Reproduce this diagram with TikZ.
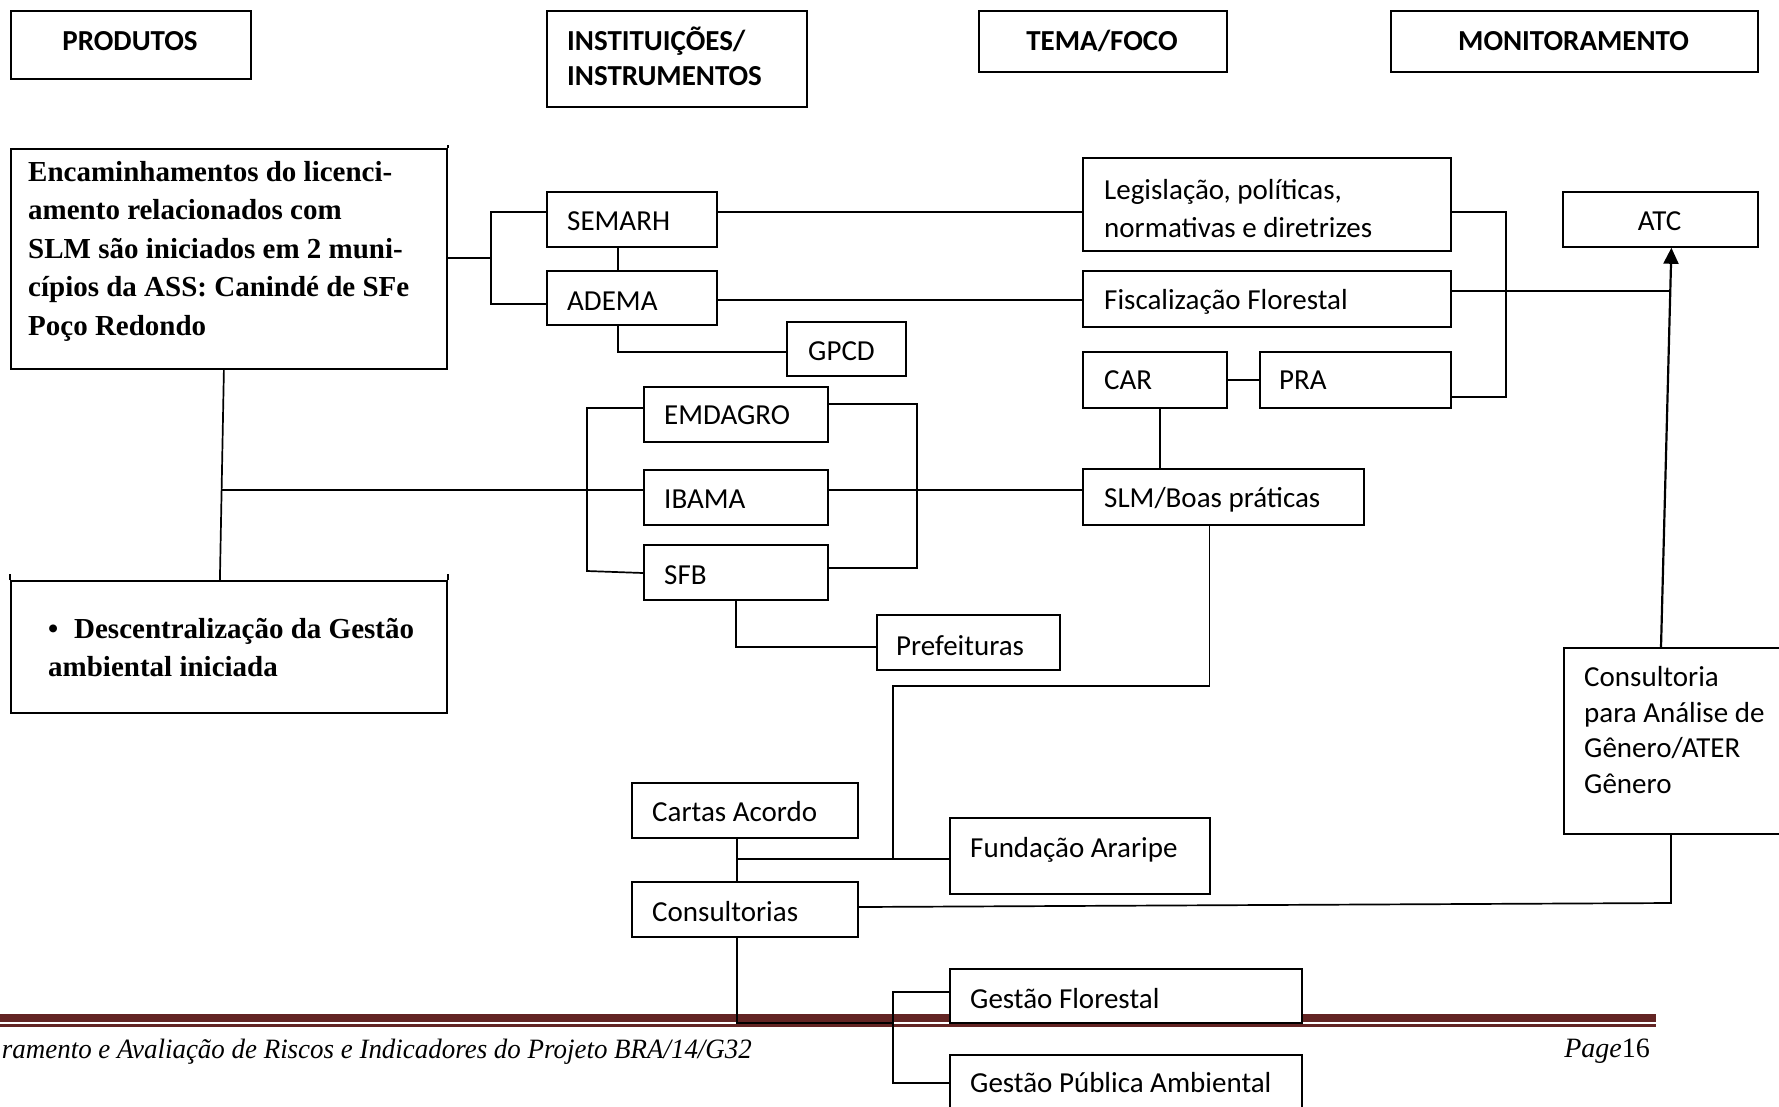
\documentclass[tikz,border=0pt]{standalone}
\usepackage{fontspec}
\setmainfont{Carlito}
\newfontfamily\tnr{Liberation Serif}
\usetikzlibrary{arrows.meta,calc}
\definecolor{footred}{RGB}{99,36,35}
\pgfdeclarelayer{bgg}
\pgfdeclarelayer{bg}
\pgfsetlayers{bgg,bg,main}
\newcommand{\mlines}[2]{\parbox[t]{600pt}{\fontsize{29}{#1}\selectfont\raggedright #2}}
\begin{document}
\begin{tikzpicture}[x=1pt,y=-1pt,
  bx/.style={draw, line width=1.8pt, fill=white, rectangle, anchor=north west, inner sep=0pt},
  lab/.style={anchor=base west, inner sep=0pt, font=\fontsize{29}{35.5}\selectfont},
  hd/.style={anchor=base, inner sep=0pt, font=\fontsize{29}{35.5}\selectfont\bfseries},
  cn/.style={draw, line width=1.7pt},
  arr/.style={draw, line width=2.2pt, -{Triangle[length=16pt,width=15pt]}},
  tick/.style={draw, line width=1.8pt}]
\useasboundingbox (0,0) rectangle (1779,1106);
\clip (0,0) rectangle (1779,1106);

% ---------- boxes ----------
\node[bx, minimum width=240pt, minimum height=68pt] (prod) at (10,10) {};
\node[bx, minimum width=260pt, minimum height=96pt] (inst) at (546,10) {};
\node[bx, minimum width=248pt, minimum height=61pt] (tema) at (978,10) {};
\node[bx, minimum width=367pt, minimum height=61pt] (moni) at (1390,10) {};
\node[bx, minimum width=436pt, minimum height=220pt] (enc) at (10,148) {};
\node[bx, minimum width=170pt, minimum height=55pt] (semarh) at (546,191) {};
\node[bx, minimum width=170pt, minimum height=54pt] (adema) at (546,270) {};
\node[bx, minimum width=119pt, minimum height=54pt] (gpcd) at (786,321) {};
\node[bx, minimum width=368pt, minimum height=93pt] (legis) at (1082,157) {};
\node[bx, minimum width=368pt, minimum height=56pt] (fisc) at (1082,270) {};
\node[bx, minimum width=144pt, minimum height=56pt] (car) at (1082,351) {};
\node[bx, minimum width=191pt, minimum height=56pt] (pra) at (1259,351) {};
\node[bx, minimum width=195pt, minimum height=55pt] (atc) at (1562,191) {};
\node[bx, minimum width=184pt, minimum height=55pt] (emd) at (643,386) {};
\node[bx, minimum width=184pt, minimum height=55pt] (ibama) at (643,469) {};
\node[bx, minimum width=184pt, minimum height=55pt] (sfb) at (643,544) {};
\node[bx, minimum width=281pt, minimum height=56pt] (slm) at (1082,468) {};
\node[bx, minimum width=183pt, minimum height=55pt] (pref) at (876,614) {};
\node[bx, minimum width=436pt, minimum height=132pt] (desc) at (10,580) {};
\node[bx, minimum width=240pt, minimum height=186pt] (gen) at (1563,647) {};
\node[bx, minimum width=226pt, minimum height=55pt] (cartas) at (631,782) {};
\node[bx, minimum width=260pt, minimum height=76pt] (fund) at (949,817) {};
\node[bx, minimum width=226pt, minimum height=55pt] (consult) at (631,881) {};
\node[bx, minimum width=352pt, minimum height=54pt] (gf) at (949,968) {};
\node[bx, minimum width=352pt, minimum height=60pt] (gpa) at (949,1054) {};

% small tick marks at box corners
\draw[tick] (desc.north west) -- ++(0,-6);
\draw[tick] (desc.north east) -- ++(0,-6);
\draw[tick] (enc.north east) -- ++(0,-3);

% ---------- labels ----------
\node[hd] (prodT) at (130,50) {PRODUTOS};
\node[lab, font=\bfseries] (instT) at (567,50) {\mlines{35.2}{\bfseries INSTITUIÇÕES/\\INSTRUMENTOS}};
\node[hd] (temaT) at (1102,50) {TEMA/FOCO};
\node[hd] (moniT) at (1573.5,50) {MONITORAMENTO};
\node[lab] (encT) at (28,181) {\parbox[t]{600pt}{\tnr\bfseries\fontsize{29}{38.6}\selectfont\raggedright
  Encaminhamentos do licenci-\\amento relacionados com\\SLM são iniciados em 2 muni-\\cípios da ASS: Canindé de SFe\\Poço Redondo}};
\node[lab] (semarhT) at (567,230) {SEMARH};
\node[lab] (ademaT) at (567,310) {ADEMA};
\node[lab] (gpcdT) at (808,360) {GPCD};
\node[lab] (legisT) at (1104,199) {\mlines{38.5}{Legislação, políticas,\\normativas e diretrizes}};
\node[lab] (fiscT) at (1104,309) {Fiscalização Florestal};
\node[lab] (carT) at (1104,389.5) {CAR};
\node[lab] (praT) at (1279,389.5) {PRA};
\node[anchor=base, inner sep=0pt, font=\fontsize{29}{35.5}\selectfont] (atcT) at (1659.5,230) {ATC};
\node[lab] (emdT) at (664,424.5) {EMDAGRO};
\node[lab] (ibamaT) at (664,508) {IBAMA};
\node[lab] (sfbT) at (664,584) {SFB};
\node[lab] (slmT) at (1104,507) {SLM/Boas práticas};
\node[lab] (prefT) at (896,655) {Prefeituras};
\node[lab] (descT) at (48,638.5) {\parbox[t]{600pt}{\tnr\bfseries\fontsize{29}{38}\selectfont\raggedright
  \makebox[26pt][l]{•}Descentralização da Gestão\\ambiental iniciada}};
\node[lab] (genT) at (1584,686.7) {\mlines{35.5}{Consultoria\\para Análise de\\Gênero/ATER\\Gênero}};
\node[lab] (cartasT) at (652,821) {Cartas Acordo};
\node[lab] (fundT) at (970,857) {Fundação Araripe};
\node[lab] (consultT) at (652,921) {Consultorias};
\node[lab] (gfT) at (970,1008) {Gestão Florestal};
\node[lab] (gpaT) at (970,1092) {Gestão Pública Ambiental};

% footer text
\node[anchor=base east, inner sep=0pt, font=\tnr\itshape\fontsize{28}{34}\selectfont] (foot) at (752,1058)
  {\scalebox{0.962}[1]{ramento e Avaliação de Riscos e Indicadores do Projeto BRA/14/G32}};
\node[anchor=base east, inner sep=0pt, font=\tnr\fontsize{28}{34}\selectfont] (page) at (1650,1057) {\textit{Page}16};

% ---------- junction coordinates ----------
\coordinate (j1) at (491,258);
\coordinate (j2) at (1506,397);
\coordinate (j3) at (1669,291);
\coordinate (j4) at (221,490);
\coordinate (j6) at (587,571);
\coordinate (j7) at (917,568);
\coordinate (j8) at (893,859);
\coordinate (j9) at ([xshift=-14pt]slm.south |- 0,686);
\coordinate (j10) at (736,859);
\coordinate (j11) at (1671,903);
\coordinate (j12) at (893,1023);
\coordinate (j13) at (893,1083);

% ---------- footer rules ----------
\begin{pgfonlayer}{bgg}
\fill[footred] (0,1014) rectangle (1656,1022);
\fill[footred] (0,1024) rectangle (1656,1026.5);
\end{pgfonlayer}

% ---------- connectors ----------
\begin{pgfonlayer}{bg}
\draw[cn] (enc.east |- j1) -- (j1);
\draw[cn] (semarh.west |- 0,212) -| (j1) |- (adema.west |- 0,304);
\draw[cn] ([xshift=-14pt]semarh.south) -- ([xshift=-14pt]adema.north);
\draw[cn] ([xshift=-14pt]adema.south) |- (gpcd.west |- 0,352);
\draw[cn] (semarh.east |- 0,212) -- (legis.west |- 0,212);
\draw[cn] (adema.east |- 0,300) -- (fisc.west |- 0,300);
\draw[cn] (legis.east |- 0,212) -| (j2) -- (pra.east |- j2);
\draw[cn] (fisc.east |- j3) -- (j3);
\draw[cn] (car.east) -- (pra.west);
\draw[cn] ([xshift=5pt]car.south) -- ([xshift=5pt]car.south |- slm.north);
\draw[cn] ([xshift=-5pt]enc.south) -- ([xshift=-9pt]desc.north);
\draw[cn] (j4) -- (ibama.west |- j4);
\draw[cn] (emd.west |- 0,408) -| (j6) -- (sfb.west |- 0,573);
\draw[cn] (emd.east |- 0,404) -| (j7) -- (sfb.east |- j7);
\draw[cn] (ibama.east |- 0,490) -- (slm.west |- 0,490);
\draw[cn] (sfb.south) |- (pref.west |- 0,647);
\draw[cn] ([xshift=-14pt]slm.south) -- (j9) -| (j8);
\draw[cn] ([xshift=-8pt]cartas.south) -- ([xshift=-8pt]consult.north);
\draw[cn] (j10) -- (fund.west |- j10);
\draw[cn] (consult.east |- 0,907) -- (j11) -- (gen.south -| j11);
\draw[cn] ([xshift=-8pt]consult.south) |- (j12);
\draw[cn] (gf.west |- 0,992) -| (j13) -- (gpa.west |- j13);
\end{pgfonlayer}
\draw[arr] ([xshift=98pt]gen.north west) -- ([xshift=11pt]atc.south);
\end{tikzpicture}
\end{document}
